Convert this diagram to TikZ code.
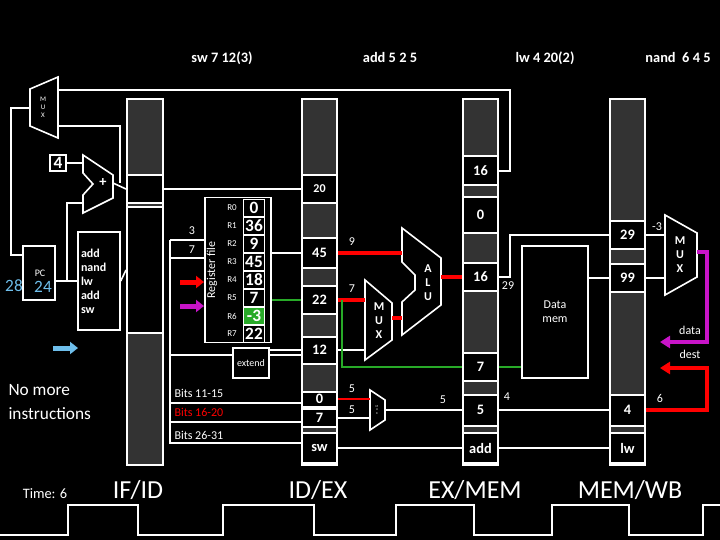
\documentclass[tikz,border=0pt]{standalone}
\usepackage{fontspec}
\setmainfont{Carlito}
\usepackage{tikz}
\usetikzlibrary{arrows.meta,positioning}
\definecolor{latchgray}{RGB}{51,51,51}
\definecolor{pcblue}{RGB}{110,190,235}
\definecolor{fwdgreen}{RGB}{40,170,40}
\definecolor{wbpurple}{RGB}{200,20,200}
\begin{document}
\begin{tikzpicture}[x=1pt,y=-1pt,color=white,
  wire/.style={white,line width=1.6pt},
  hot/.style={red,line width=4pt},
  col/.style={draw=white,fill=latchgray,line width=2.5pt},
  latch/.style={draw=white,fill=black,line width=2pt,minimum width=35pt,inner sep=0pt,font=\bfseries\Large},
  reg/.style={draw=white,fill=black,line width=1.5pt,minimum width=21pt,minimum height=17pt,inner sep=0pt,font=\bfseries\LARGE},
  rn/.style={font=\small},
  lbl/.style={font=\large}]
\useasboundingbox (0,0) rectangle (720,540);
\fill[black] (0,0) rectangle (720,540);
%%%%% Instructions %%%%%
\node[font=\Large\bfseries] at (222,58) {sw 7 12(3)};
\node[font=\Large\bfseries] at (390,58) {add 5 2 5};
\node[font=\Large\bfseries] at (545,58) {lw 4 20(2)};
\node[font=\Large\bfseries] at (678,58) {nand\ \ 6 4 5};
%%%%% Pipeline registers %%%%%
\draw[col] (127,99) rectangle (163,465);
\draw[col] (302,99) rectangle (337,465);
\draw[col] (463,99) rectangle (498,465);
\draw[col] (610,99) rectangle (645,465);
\node[draw=white,fill=black,line width=2pt,minimum width=36pt,minimum height=28pt] (ifa) at (145,189) {};
\node[draw=white,fill=black,line width=2pt,minimum width=36pt,minimum height=125pt] (ifb) at (145,270) {};
\node[latch,minimum height=28pt] (ex20) at (319.5,189) {\large 20};
\node[latch,minimum height=30pt] (ex45) at (319.5,253) {45};
\node[latch,minimum height=28pt] (ex22) at (319.5,300) {22};
\node[latch,minimum height=27pt] (ex12) at (319.5,350) {12};
\node[latch,minimum height=15pt] (ex0) at (319.5,399) {0};
\node[latch,minimum height=18pt] (ex7) at (319.5,418) {7};
\node[latch,minimum height=30pt] (exop) at (319.5,448) {sw};
\node[latch,minimum height=29pt] (mem16a) at (480.5,171) {16};
\node[latch,minimum height=35pt] (mem0) at (480.5,215) {0};
\node[latch,minimum height=28pt] (mem16) at (480.5,277) {16};
\node[latch,minimum height=28pt] (mem7) at (480.5,367) {7};
\node[latch,minimum height=31pt] (mem5) at (480.5,410) {5};
\node[latch,minimum height=30pt] (memop) at (480.5,448) {add};
\node[latch,minimum height=28pt] (wb29) at (627.5,235) {29};
\node[latch,minimum height=28pt] (wb99) at (627.5,278) {99};
\node[latch,minimum height=31pt] (wb4) at (627.5,410) {4};
\node[latch,minimum height=30pt] (wbop) at (627.5,448) {lw};
%%%%% Fetch %%%%%
\draw[wire] (30,89)--(58,77)--(58,138)--(30,126)--cycle;
\node[font=\scriptsize,align=center] (pcmux) at (43,107) {M\\U\\X};
\node[draw=white,line width=1.5pt,font=\bfseries\LARGE,inner sep=1pt,minimum size=16pt] (four) at (58,163) {4};
\draw[wire] (83,155)--(113,175)--(113,198)--(83,213)--(83,195)--(93,184)--(83,173)--cycle;
\node[font=\bfseries\Large] (add) at (103,183) {+};
\node[draw=white,line width=1.5pt,minimum width=32pt,minimum height=54pt] (pc) at (39,273) {};
\node[font=\normalsize] at (40,273) {PC};
\node[text=pcblue,font=\LARGE] at (14,286) {28};
\node[text=pcblue,font=\LARGE] at (43,287) {24};
\node[draw=white,line width=1.5pt,minimum width=42pt,minimum height=98pt,align=left,font=\bfseries\large,inner sep=2pt,text width=36pt] (imem) at (99,281) {add\\nand\\lw\\add\\sw};
\draw[wire] (four.east)--(83,163);
\draw[wire] (pc.east|-imem.west)--(imem.west);
\draw[wire] (imem.east)--(ifb.west);
\draw[wire] (67,281)--(67,203)--(83,203);
\draw[wire] (113,183)--(ifa.west);
\draw[wire] (58,126)--(120,126)--(120,183);
\draw[wire] (30,108)--(11,108)--(11,255)--(23,255);
\draw[wire] (58,90)--(510,90)--(510,171)--(mem16a.east);
\draw[-{Triangle[width=12pt,length=8pt]},pcblue,line width=5pt] (53,348)--(78,348);
\node[font=\LARGE,align=left,anchor=west] at (5,402) {No more\\[2pt]instructions};
%%%%% Decode %%%%%
\draw[wire] (ifa.east)--(ex20.west);
\draw[wire] (170,240)--(205,240) (170,258)--(205,258);
\draw[wire] (170,240)--(170,443)--(302,443);
\draw[wire] (170,355)--(302,355) (170,403)--(302,403) (170,422)--(302,422);
\node[lbl] at (192,231) {3};
\node[lbl] at (192,250) {7};
\node[draw=white,line width=1.5pt,minimum width=66pt,minimum height=145pt] (rf) at (238,270) {};
\node[rotate=90,font=\large] at (212,270) {Register file};
\foreach \v [count=\i from 0] in {0,36,9,45,18,7,-3,22}{
  \node[rn] at (232,208+18*\i) {R\i};
  \node[reg] (r\i) at (254,208+18*\i) {\v};
}
\node[reg,fill=fwdgreen] at (254,316) {-3};
\node[draw=white,line width=1.5pt,fill=black,minimum width=36pt,minimum height=30pt,inner sep=0pt,font=\normalsize] (ext) at (251,363) {extend};
\draw[-{Triangle[width=12pt,length=8pt]},red,line width=5pt] (180,282)--(204,282);
\draw[-{Triangle[width=12pt,length=8pt]},wbpurple,line width=5pt] (180,306)--(204,306);
\draw[wire] (rf.east|-ex45)--(ex45.west);
\draw[fwdgreen,line width=1.5pt] (rf.east|-ex22)--(ex22.west);
\draw[wire] (ext.east|-ex12)--(ex12.west);
\node[lbl,anchor=west] at (171,393) {Bits 11-15};
\node[lbl,anchor=west,text=red] at (171,412) {Bits 16-20};
\node[lbl,anchor=west] at (171,435) {Bits 26-31};
%%%%% Execute %%%%%
\draw[wire] (365,280)--(392,303)--(392,340)--(365,360)--cycle;
\node[font=\bfseries\large,align=center] (alumux) at (379,321) {M\\U\\X};
\draw[wire] (402,228)--(441,258)--(441,305)--(402,335)--(402,302)--(415,290)--(415,275)--(402,262)--cycle;
\node[font=\bfseries\large,align=center] (alu) at (428,283) {A\\L\\U};
\draw[wire] (370,390)--(385,400)--(385,420)--(370,430)--cycle;
\node[font=\tiny,align=center,scale=0.6] (dstmux) at (377,410) {M\\U\\X};
\draw[hot] (ex45.east)--(402,253);
\draw[hot] (ex22.east)--(365,300);
\draw[hot] (392,318)--(402,318);
\draw[hot] (441,277)--(mem16.west);
\draw[wire] (ex12.east)--(365,350);
\draw[fwdgreen,line width=1.5pt] (342,300)--(342,367)--(mem7.west);
\draw[red,line width=2pt] (ex0.east)--(370,399);
\draw[wire] (ex7.east)--(370,418);
\draw[wire] (385,410)--(mem5.west);
\draw[wire] (exop.east)--(memop.west);
\node[lbl] at (352,242) {9};
\node[lbl] at (352,289) {7};
\node[lbl] at (352,389) {5};
\node[lbl] at (352,410) {5};
\node[lbl] at (443,400) {5};
%%%%% Memory %%%%%
\node[draw=white,line width=1.5pt,minimum width=66pt,minimum height=132pt,align=center,font=\large] (dmem) at (555,312) {Data\\mem};
\draw[wire] (mem16.east)--(510,277)--(510,235)--(wb29.west);
\draw[wire] (dmem.east|-wb99)--(wb99.west);
\draw[fwdgreen,line width=1.5pt] (mem7.east)--(dmem.west|-mem7);
\draw[wire] (mem5.east)--(wb4.west);
\draw[wire] (memop.east)--(wbop.west);
\node[lbl] at (508,286) {29};
\node[lbl] at (507,397) {4};
%%%%% Write back %%%%%
\draw[wire] (665,215)--(697,233)--(697,277)--(665,295)--cycle;
\node[font=\bfseries\large,align=center] (wbmux) at (680,255) {M\\U\\X};
\draw[wire] (wb29.east)--(665,235);
\draw[wire] (wb99.east)--(665,278);
\draw[wbpurple,line width=4pt,-{Triangle[width=12pt,length=10pt]}] (697,252)--(707,252)--(707,342)--(660,342);
\draw[red,line width=4pt,-{Triangle[width=12pt,length=10pt]}] (wb4.east)--(707,410)--(707,368)--(660,368);
\node[lbl] at (657,227) {-3};
\node[lbl] at (690,330) {data};
\node[lbl] at (690,354) {dest};
\node[lbl] at (660,398) {6};
%%%%% Clock %%%%%
\draw[wire] (0,535)--(68,535)--(68,505)--(138,505)--(138,535)--(223,535)--(223,505)--(314,505)--(314,535)
  --(396,535)--(396,505)--(474,505)--(474,535)--(552,535)--(552,505)--(629,505)--(629,535)--(703,535)--(703,505)--(720,505);
\node[font=\Large] at (45,494) {Time: 6};
\node[font=\fontsize{26}{28}\selectfont] at (138,490) {IF/ID};
\node[font=\fontsize{26}{28}\selectfont] at (318,490) {ID/EX};
\node[font=\fontsize{26}{28}\selectfont] at (475,490) {EX/MEM};
\node[font=\fontsize{26}{28}\selectfont] at (630,490) {MEM/WB};
\end{tikzpicture}
\end{document}
